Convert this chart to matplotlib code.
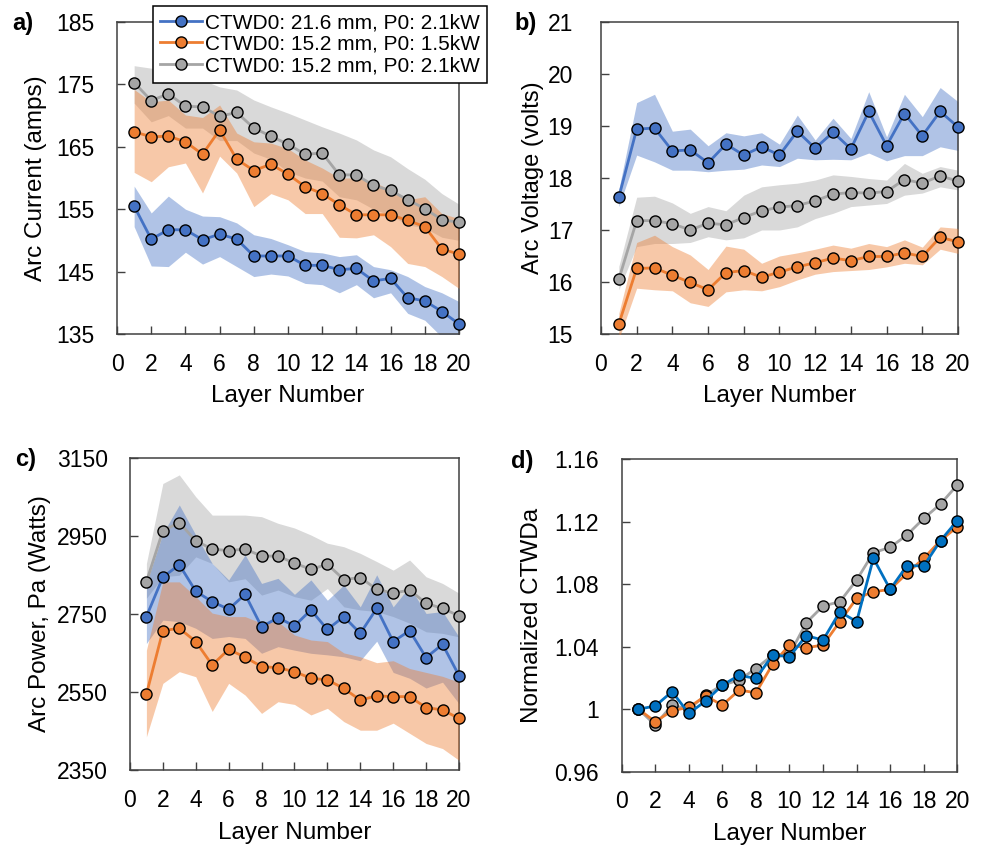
import matplotlib
matplotlib.use("Agg")
import matplotlib.pyplot as plt
from matplotlib.ticker import FuncFormatter

plt.rcParams['font.family'] = ['Liberation Sans', 'DejaVu Sans']

layers = list(range(1, 21))

legend_labels = ['CTWD0: 21.6 mm, P0: 2.1kW',
                 'CTWD0: 15.2 mm, P0: 1.5kW',
                 'CTWD0: 15.2 mm, P0: 2.1kW']

# a) arc current
cur_blue = [155.5, 150.2, 151.7, 151.7, 150.1, 151.0, 150.2, 147.5, 147.5, 147.5,
            146.0, 146.0, 145.3, 145.5, 143.5, 143.9, 140.8, 140.3, 138.6, 136.6]
cur_blue_hi = [158.7, 154.4, 157.1, 155.0, 153.9, 153.8, 152.8, 150.9, 150.3, 149.3,
               148.2, 148.0, 147.4, 147.7, 145.8, 145.3, 144.2, 142.6, 141.6, 140.2]
cur_blue_lo = [152.2, 145.9, 145.8, 148.1, 146.2, 147.4, 145.8, 144.2, 144.6, 144.3,
               143.1, 142.9, 141.6, 142.9, 140.8, 141.6, 138.3, 137.2, 134.5, 133.0]
cur_orange = [167.4, 166.6, 166.7, 165.8, 163.8, 167.7, 163.0, 161.2, 162.2, 160.6,
              158.6, 157.5, 155.7, 154.1, 154.1, 154.1, 153.2, 152.2, 148.6, 147.8]
cur_orange_hi = [174.2, 172.2, 172.5, 170.1, 169.7, 171.7, 167.2, 165.8, 165.6, 164.7,
                 162.9, 161.6, 160.0, 160.0, 159.4, 158.1, 156.5, 157.0, 154.3, 153.5]
cur_orange_lo = [160.9, 159.4, 161.8, 162.4, 157.6, 163.5, 160.8, 155.4, 157.5, 156.5,
                 154.3, 154.3, 150.5, 150.4, 150.9, 149.0, 146.3, 145.8, 144.2, 142.3]
cur_gray = [175.3, 172.4, 173.5, 171.5, 171.4, 169.9, 170.5, 168.0, 166.7, 165.4,
            163.8, 164.0, 160.5, 160.5, 158.8, 158.0, 156.5, 155.1, 153.3, 152.9]
cur_gray_hi = [178.0, 177.6, 176.9, 176.0, 175.7, 174.6, 174.1, 172.5, 171.4, 170.4,
               169.3, 168.2, 167.2, 166.1, 164.5, 163.4, 161.5, 159.8, 157.5, 155.8]
cur_gray_lo = [172.0, 169.0, 170.0, 168.0, 168.0, 166.0, 166.0, 164.0, 163.0, 161.0,
               160.0, 159.5, 157.0, 156.5, 155.0, 154.0, 152.5, 152.0, 150.5, 150.0]

# b) arc voltage
volt_blue = [17.63, 18.94, 18.96, 18.52, 18.54, 18.29, 18.65, 18.44, 18.60, 18.44,
             18.90, 18.57, 18.88, 18.56, 19.28, 18.62, 19.24, 18.81, 19.28, 18.98]
volt_blue_hi = [17.78, 19.45, 19.61, 18.90, 18.94, 18.62, 18.87, 18.81, 18.87, 18.65,
                19.21, 18.73, 19.15, 18.76, 19.66, 18.79, 19.61, 19.18, 19.74, 19.47]
volt_blue_lo = [17.45, 18.44, 18.31, 18.15, 18.15, 18.12, 18.15, 18.17, 18.25, 18.22,
                18.38, 18.35, 18.36, 18.35, 18.48, 18.33, 18.43, 18.43, 18.60, 18.53]
volt_orange = [15.19, 16.26, 16.27, 16.13, 15.99, 15.85, 16.18, 16.22, 16.09, 16.19,
               16.29, 16.37, 16.46, 16.41, 16.49, 16.49, 16.56, 16.49, 16.86, 16.77]
volt_orange_hi = [15.40, 16.76, 16.90, 16.68, 16.52, 16.24, 16.69, 16.63, 16.36, 16.50,
                  16.56, 16.63, 16.71, 16.65, 16.74, 16.68, 16.81, 16.67, 17.06, 17.03]
volt_orange_lo = [14.90, 15.88, 15.85, 15.83, 15.60, 15.53, 15.81, 15.85, 15.83, 15.91,
                  16.04, 16.15, 16.20, 16.22, 16.24, 16.29, 16.36, 16.33, 16.63, 16.55]
volt_gray = [16.05, 17.18, 17.18, 17.12, 17.00, 17.13, 17.10, 17.24, 17.37, 17.44,
             17.47, 17.56, 17.69, 17.72, 17.71, 17.74, 17.97, 17.90, 18.04, 17.94]
volt_gray_hi = [16.30, 17.63, 17.65, 17.52, 17.32, 17.45, 17.37, 17.67, 17.83, 17.87,
                17.90, 17.96, 18.06, 18.03, 17.99, 17.96, 18.28, 18.09, 18.22, 18.15]
volt_gray_lo = [15.85, 16.68, 16.74, 16.74, 16.76, 16.87, 16.81, 16.85, 17.00, 17.00,
                17.06, 17.22, 17.32, 17.45, 17.48, 17.51, 17.67, 17.71, 17.83, 17.77]

# c) arc power
pow_blue = [2743, 2844, 2876, 2808, 2781, 2762, 2800, 2717, 2740, 2719,
            2760, 2710, 2743, 2700, 2764, 2679, 2707, 2638, 2672, 2592]
pow_blue_hi = [2828, 2956, 3029, 2952, 2879, 2837, 2901, 2828, 2841, 2800,
               2837, 2785, 2824, 2768, 2850, 2768, 2820, 2751, 2756, 2691]
pow_blue_lo = [2674, 2734, 2730, 2713, 2687, 2692, 2687, 2649, 2666, 2657,
               2649, 2645, 2640, 2630, 2680, 2600, 2585, 2560, 2575, 2520]
pow_orange = [2544, 2707, 2713, 2679, 2619, 2659, 2639, 2615, 2612, 2602,
              2585, 2581, 2559, 2529, 2540, 2538, 2538, 2510, 2504, 2482]
pow_orange_hi = [2657, 2832, 2832, 2794, 2752, 2743, 2743, 2726, 2730, 2696,
                 2683, 2679, 2650, 2640, 2625, 2630, 2610, 2600, 2590, 2575]
pow_orange_lo = [2435, 2572, 2602, 2589, 2500, 2572, 2542, 2495, 2525, 2518,
                 2491, 2508, 2474, 2452, 2452, 2470, 2444, 2418, 2405, 2375]
pow_gray = [2832, 2963, 2984, 2937, 2916, 2912, 2916, 2898, 2898, 2880,
            2864, 2877, 2838, 2843, 2813, 2803, 2811, 2777, 2764, 2745]
pow_gray_hi = [2879, 3084, 3106, 3050, 3003, 3003, 3003, 2999, 2982, 2970,
               2952, 2931, 2922, 2905, 2884, 2862, 2888, 2845, 2828, 2803]
pow_gray_lo = [2790, 2845, 2849, 2896, 2879, 2832, 2840, 2798, 2811, 2794,
               2785, 2815, 2768, 2760, 2756, 2743, 2726, 2704, 2700, 2691]

# d) normalized CTWDa
ctwd_blue = [1.0, 1.002, 1.0112, 0.9973, 1.0052, 1.0154, 1.0216, 1.0197, 1.0346, 1.0336,
             1.047, 1.0442, 1.0623, 1.056, 1.0965, 1.0766, 1.0918, 1.0916, 1.1078, 1.1206]
ctwd_orange = [1.0, 0.992, 0.999, 1.0012, 1.0084, 1.0026, 1.0122, 1.0105, 1.0289, 1.041,
               1.0393, 1.041, 1.056, 1.0709, 1.0751, 1.0766, 1.0869, 1.0965, 1.1078, 1.1167]
ctwd_gray = [1.0, 0.9899, 1.0026, 1.0, 1.009, 1.0154, 1.0186, 1.026, 1.0346, 1.035,
             1.0553, 1.066, 1.0687, 1.0826, 1.1001, 1.1035, 1.1114, 1.122, 1.1312, 1.1434]

BLUE = '#4472C4'
BLUE_D = '#0070C0'
ORANGE = '#ED7D31'
GRAY = '#A5A5A5'
SPINE = '#404040'


def style_axes(ax, ylim, yticks, ypad, ylabel, ylab_x, tag, tag_xy, ylab_size=17.5):
    ax.set_xlim(0, 20)
    ax.set_xticks(range(0, 21, 2))
    ax.set_ylim(*ylim)
    ax.set_yticks(yticks)
    ax.yaxis.set_major_formatter(FuncFormatter(lambda v, p: '{:g}'.format(round(v, 4))))
    ax.tick_params(direction='in', length=6, width=1, color=SPINE, labelsize=16.5,
                   top=False, right=False)
    ax.tick_params(axis='x', pad=13.5)
    ax.tick_params(axis='y', pad=ypad)
    for s in ax.spines.values():
        s.set_color(SPINE)
        s.set_linewidth(1.1)
    ax.set_xlabel('Layer Number', fontsize=17.5)
    ax.xaxis.set_label_coords(0.5, -0.165)
    ax.set_ylabel(ylabel, fontsize=ylab_size)
    ax.yaxis.set_label_coords(ylab_x, 0.5)
    fig.text(tag_xy[0], tag_xy[1], tag, fontsize=17, fontweight='bold',
             ha='left', va='center')


def series(ax, y, color, zorder):
    ax.plot(layers, y, color=color, lw=2.0, marker='o', ms=8,
            mfc=color, mec='black', mew=1.0, zorder=zorder, clip_on=False)


fig = plt.figure(figsize=(9.86, 8.5), dpi=100)
ax_a = fig.add_axes([0.1187, 0.6071, 0.3468, 0.3670])
ax_b = fig.add_axes([0.6095, 0.6071, 0.3621, 0.3670])
ax_c = fig.add_axes([0.1318, 0.0941, 0.3337, 0.3674])
ax_d = fig.add_axes([0.6305, 0.0921, 0.3404, 0.3679])

# a)
ax_a.fill_between(layers, cur_gray_lo, cur_gray_hi, color=GRAY, alpha=0.42, lw=0, zorder=1)
ax_a.fill_between(layers, cur_blue_lo, cur_blue_hi, color=BLUE, alpha=0.42, lw=0, zorder=2)
ax_a.fill_between(layers, cur_orange_lo, cur_orange_hi, color=ORANGE, alpha=0.42, lw=0, zorder=3)
series(ax_a, cur_gray, GRAY, 4)
series(ax_a, cur_orange, ORANGE, 5)
series(ax_a, cur_blue, BLUE, 6)
style_axes(ax_a, (135, 185), range(135, 186, 10), 16.5, 'Arc Current (amps)', -0.205,
           'a)', (0.012, 0.972))

# b)
ax_b.fill_between(layers, volt_gray_lo, volt_gray_hi, color=GRAY, alpha=0.42, lw=0, zorder=1)
ax_b.fill_between(layers, volt_blue_lo, volt_blue_hi, color=BLUE, alpha=0.42, lw=0, zorder=2)
ax_b.fill_between(layers, volt_orange_lo, volt_orange_hi, color=ORANGE, alpha=0.42, lw=0, zorder=3)
series(ax_b, volt_gray, GRAY, 4)
series(ax_b, volt_orange, ORANGE, 5)
series(ax_b, volt_blue, BLUE, 6)
style_axes(ax_b, (15, 21), range(15, 22), 20, 'Arc Voltage (volts)', -0.160,
           'b)', (0.522, 0.972), ylab_size=17)

# c)
ax_c.fill_between(layers, pow_gray_lo, pow_gray_hi, color=GRAY, alpha=0.42, lw=0, zorder=1)
ax_c.fill_between(layers, pow_blue_lo, pow_blue_hi, color=BLUE, alpha=0.42, lw=0, zorder=2)
ax_c.fill_between(layers, pow_orange_lo, pow_orange_hi, color=ORANGE, alpha=0.42, lw=0, zorder=3)
series(ax_c, pow_gray, GRAY, 4)
series(ax_c, pow_orange, ORANGE, 5)
series(ax_c, pow_blue, BLUE, 6)
style_axes(ax_c, (2350, 3150), range(2350, 3151, 200), 16, 'Arc Power, Pa (Watts)', -0.240,
           'c)', (0.015, 0.459))

# d)
series(ax_d, ctwd_gray, GRAY, 4)
series(ax_d, ctwd_orange, ORANGE, 5)
series(ax_d, ctwd_blue, BLUE_D, 6)
style_axes(ax_d, (0.96, 1.16), [0.96, 1.0, 1.04, 1.08, 1.12, 1.16], 16.5,
           'Normalized CTWDa', -0.2345, 'd)', (0.518, 0.457))

handles = [ax_a.lines[2], ax_a.lines[1], ax_a.lines[0]]
leg = fig.legend(handles, legend_labels, loc='upper left', bbox_to_anchor=(0.155, 0.993),
                 fontsize=15, frameon=True, fancybox=False, framealpha=1,
                 edgecolor='black', borderpad=0.35, labelspacing=0.12,
                 handlelength=2.0, handletextpad=0.15, borderaxespad=0)
leg.get_frame().set_linewidth(1.1)

fig.savefig('out.png', dpi=100)
